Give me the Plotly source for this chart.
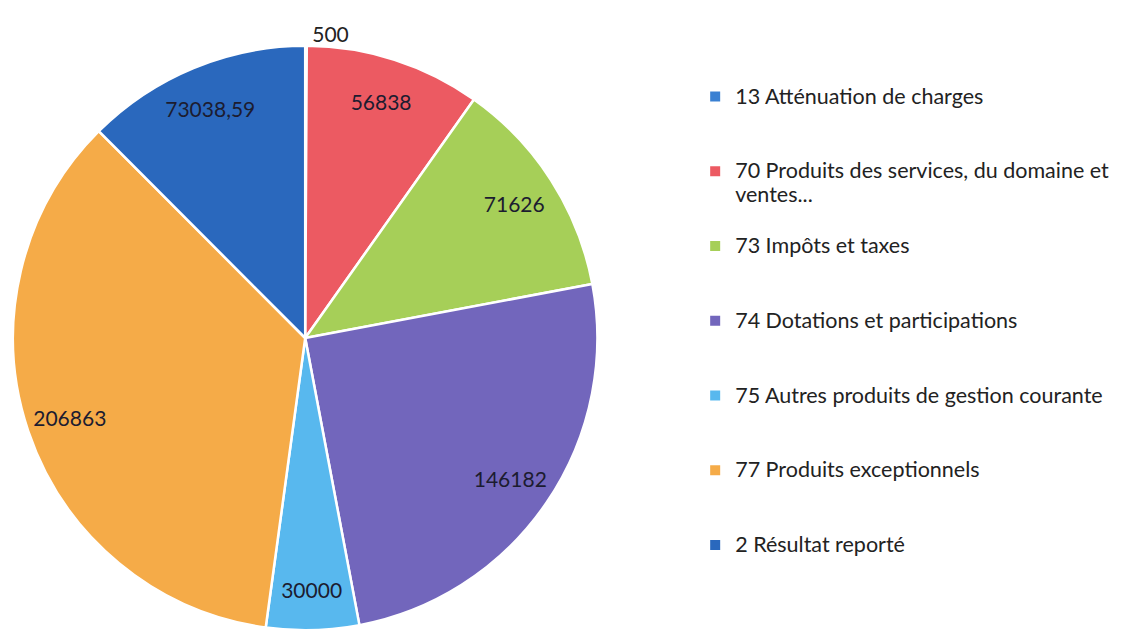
import plotly.graph_objects as go

categories = [
    "13 Atténuation de charges",
    "70 Produits des services, du domaine et<br>ventes...",
    "73 Impôts et taxes",
    "74 Dotations et participations",
    "75 Autres produits de gestion courante",
    "77 Produits exceptionnels",
    "2 Résultat reporté",
]
values = [500, 56838, 71626, 146182, 30000, 206863, 73038.59]
colors = ["#3a80d2", "#ec5a62", "#a6cf58", "#7266bc", "#58b8ee", "#f5ab48", "#2a68bd"]
label_pos = ["outside", "inside", "inside", "inside", "inside", "inside", "inside"]

texts = [f"{v}".replace(".", ",") for v in values]


def legend_label(c):
    n_lines = c.count("<br>") + 1
    parts = c.split("<br>")
    big = "<br>".join(f"<span style='font-size:21.5px'>{p}</span>" for p in parts)
    return big + "<br> " * (3 - n_lines)


legend_labels = [legend_label(c) for c in categories]

W, H = 1127, 636
cx, cy, r = 293.5, 330, 295
dom = dict(
    x=[max(0.0, (cx - r) / W), (cx + r) / W if cx - r >= 0 else 2 * cx / W],
    y=[(H - cy - r) / H, (H - cy + r) / H],
)

# solid slices with legend
pie = go.Pie(
    labels=legend_labels,
    values=values,
    textinfo="none",
    sort=False,
    direction="clockwise",
    rotation=0,
    marker=dict(colors=colors, line=dict(color="white", width=2.5)),
    domain=dom,
    hoverinfo="skip",
)

# transparent ring carrying the value labels near the rim
ring = go.Pie(
    labels=legend_labels,
    values=values,
    text=texts,
    textinfo="text",
    textposition=label_pos,
    insidetextorientation="horizontal",
    sort=False,
    direction="clockwise",
    rotation=0,
    hole=0.7,
    marker=dict(colors=["rgba(0,0,0,0)"] * len(values), line=dict(width=0)),
    textfont=dict(family="Lato", size=21, color="#1c1c30"),
    outsidetextfont=dict(family="Lato", size=21, color="#222222"),
    domain=dom,
    showlegend=False,
    hoverinfo="label+value",
)

fig = go.Figure([pie, ring])

fig.update_layout(
    width=W,
    height=H,
    margin=dict(l=0, r=0, t=0, b=0),
    paper_bgcolor="white",
    plot_bgcolor="white",
    showlegend=True,
    uniformtext=dict(minsize=21, mode="show"),
    legend=dict(
        x=0.608,
        y=0.89,
        xanchor="left",
        yanchor="top",
        valign="top",
        font=dict(family="Lato", size=18.4, color="#222222"),
        itemsizing="constant",
        traceorder="normal",
    ),
)

fig.write_html("out.html")
